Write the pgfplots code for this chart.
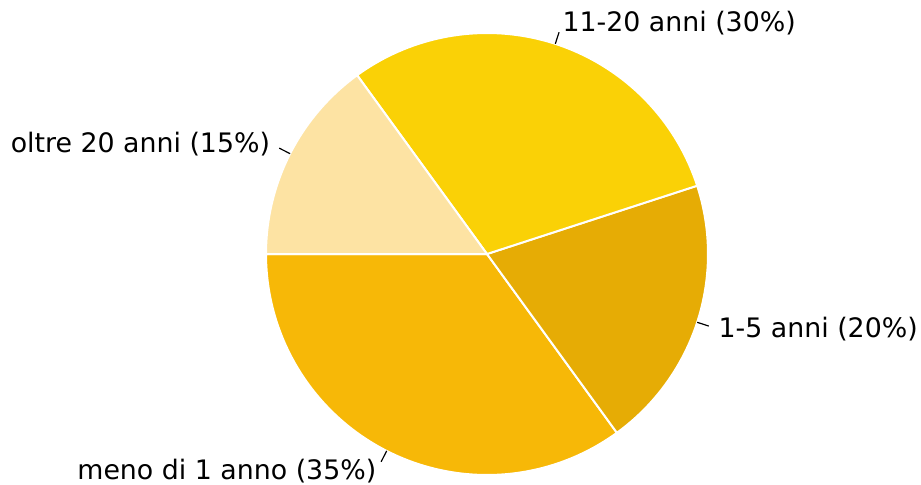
\documentclass[border=0pt]{standalone}
\usepackage{pgfplots}
\pgfplotsset{compat=1.18}
\usepackage{fontspec}
\setmainfont{DejaVu Sans}
\definecolor{cA}{HTML}{F7B807}
\definecolor{cB}{HTML}{E6AC05}
\definecolor{cC}{HTML}{FAD106}
\definecolor{cD}{HTML}{FDE3A3}
\newcommand{\pielabel}[3]{%
  \draw[black, line width=0.6pt] (axis cs:{487+221*cos(#1)},{230+221*sin(#1)}) -- (axis cs:{487+1.055*221*cos(#1)},{230+1.055*221*sin(#1)});
  \node[anchor=#2, inner sep=0pt, font=\fontsize{13.4}{16}\selectfont] at (axis cs:{487+1.1*221*cos(#1)},{230+1.1*221*sin(#1)}) {#3};}
\begin{document}
\begin{tikzpicture}
\begin{axis}[
  scale only axis, width=460.5pt, height=242pt,
  xmin=0, xmax=921, ymin=0, ymax=484,
  hide axis, clip=false,
]
\path (rel axis cs:0,0) rectangle (rel axis cs:1,1);
% shares: meno di 1 anno 35, 1-5 anni 20, 11-20 anni 30, oltre 20 anni 15 (start 180 deg, counterclockwise)
\addplot[fill=cA, draw=white, line width=1pt, domain=180:306, samples=90, variable=\t]
  ({487+221*cos(\t)},{230+221*sin(\t)}) -- (axis cs:487,230) -- cycle;
\addplot[fill=cB, draw=white, line width=1pt, domain=306:378, samples=60, variable=\t]
  ({487+221*cos(\t)},{230+221*sin(\t)}) -- (axis cs:487,230) -- cycle;
\addplot[fill=cC, draw=white, line width=1pt, domain=378:486, samples=80, variable=\t]
  ({487+221*cos(\t)},{230+221*sin(\t)}) -- (axis cs:487,230) -- cycle;
\addplot[fill=cD, draw=white, line width=1pt, domain=486:540, samples=40, variable=\t]
  ({487+221*cos(\t)},{230+221*sin(\t)}) -- (axis cs:487,230) -- cycle;
\pielabel{243}{east}{meno di 1 anno (35\%)}
\pielabel{342}{west}{1-5 anni (20\%)}
\pielabel{72}{west}{11-20 anni (30\%)}
\pielabel{153}{east}{oltre 20 anni (15\%)}
\end{axis}
\end{tikzpicture}
\end{document}
